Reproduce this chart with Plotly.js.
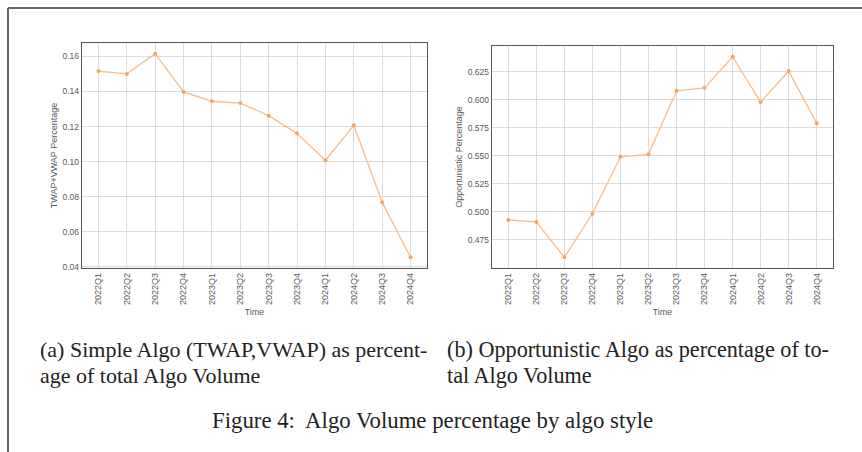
<!DOCTYPE html>
<html>
<head>
<meta charset="utf-8">
<script src="https://cdn.plot.ly/plotly-3.0.1.min.js"></script>
<style>html,body{margin:0;padding:0;background:#fff;}#chart{width:862px;height:452px;}</style>
</head>
<body>
<div id="chart"></div>
<script>
const quarters = ["2022Q1","2022Q2","2022Q3","2022Q4","2023Q1","2023Q2","2023Q3","2023Q4","2024Q1","2024Q2","2024Q3","2024Q4"];
const simpleAlgoPct = [0.1516,0.1500,0.1615,0.1397,0.1344,0.1334,0.1262,0.1160,0.1008,0.1207,0.0768,0.0455];
const opportunisticPct = [0.4928,0.4911,0.4596,0.4984,0.5492,0.5514,0.6081,0.6107,0.6384,0.5980,0.6256,0.5790];
const leftYTicks = [0.04,0.06,0.08,0.10,0.12,0.14,0.16];
const leftYTickText = ["0.04","0.06","0.08","0.10","0.12","0.14","0.16"];
const rightYTicks = [0.475,0.500,0.525,0.550,0.575,0.600,0.625];
const rightYTickText = ["0.475","0.500","0.525","0.550","0.575","0.600","0.625"];
const captionALines = ["(a) Simple Algo (TWAP,VWAP) as percent-", "age of total Algo Volume"];
const captionBLines = ["(b) Opportunistic Algo as percentage of to-", "tal Algo Volume"];
const figCaption = "Figure 4:  Algo Volume percentage by algo style";

const W = 862, H = 452;
const px = v => v / W;
const py = v => 1 - v / H;

const lineColor = "#f9bc86";
const markerColor = "#f4a563";

const traces = [
  {x: quarters, y: simpleAlgoPct, type: "scatter", mode: "lines+markers", xaxis: "x", yaxis: "y",
   line: {color: lineColor, width: 1.3}, marker: {color: markerColor, size: 4}},
  {x: quarters, y: opportunisticPct, type: "scatter", mode: "lines+markers", xaxis: "x2", yaxis: "y2",
   line: {color: lineColor, width: 1.3}, marker: {color: markerColor, size: 4}}
];

const xTickFont = {family: "Arial, Liberation Sans, sans-serif", size: 9, color: "#5a5a5a"};
const yTickFont = {family: "Arial, Liberation Sans, sans-serif", size: 8.5, color: "#5a5a5a"};
const titleFont = {family: "Arial, Liberation Sans, sans-serif", size: 9, color: "#5a5a5a"};

const xCommon = {
  type: "category", range: [-0.58, 11.58], tickangle: -90, tickfont: xTickFont,
  showgrid: true, gridcolor: "#dcdcdc", gridwidth: 1,
  showline: true, mirror: true, linecolor: "#555", linewidth: 1.3,
  ticks: "", fixedrange: true, zeroline: false, automargin: false,
  title: {text: "Time", font: titleFont, standoff: 4}
};
const yCommon = {
  tickfont: yTickFont, showgrid: true, gridcolor: "#dcdcdc", gridwidth: 1,
  showline: true, mirror: true, linecolor: "#555", linewidth: 1.3,
  ticks: "", zeroline: false, automargin: false
};

const serif = size => ({family: "Liberation Serif, serif", size: size, color: "#222"});
const cap = (text, x, y, anchor, size) => ({text: text, xref: "paper", yref: "paper", x: px(x), y: py(y),
  xanchor: anchor, yanchor: "middle", align: "left", showarrow: false, font: serif(size)});

const layout = {
  width: W, height: H,
  margin: {l: 0, r: 0, t: 0, b: 0},
  paper_bgcolor: "#fff", plot_bgcolor: "#fff",
  showlegend: false,
  xaxis: Object.assign({}, xCommon, {domain: [px(82), px(427)], anchor: "y"}),
  yaxis: Object.assign({}, yCommon, {domain: [1 - 268/H, 1 - 43/H], anchor: "x",
    range: [0.0394, 0.1676], tickvals: leftYTicks, ticktext: leftYTickText,
    title: {text: "TWAP+VWAP Percentage", font: titleFont, standoff: 3}}),
  xaxis2: Object.assign({}, xCommon, {domain: [px(492), px(833)], anchor: "y2"}),
  yaxis2: Object.assign({}, yCommon, {domain: [1 - 268/H, 1 - 46/H], anchor: "x2",
    range: [0.450, 0.648], tickvals: rightYTicks, ticktext: rightYTickText,
    title: {text: "Opportunistic Percentage", font: titleFont, standoff: 3}}),
  shapes: [
    {type: "line", xref: "paper", yref: "paper", x0: px(8), x1: 1, y0: py(8), y1: py(8), line: {color: "#666", width: 2}},
    {type: "line", xref: "paper", yref: "paper", x0: px(8), x1: px(8), y0: 0, y1: py(8), line: {color: "#666", width: 2}}
  ],
  annotations: [
    cap(captionALines[0], 38, 349, "left", 22),
    cap(captionALines[1], 38, 375, "left", 22),
    cap(captionBLines[0], 445, 349, "left", 22.2),
    cap(captionBLines[1], 445, 375, "left", 22.2),
    cap(figCaption, 433, 420, "center", 22.8)
  ]
};

Plotly.newPlot("chart", traces, layout, {displayModeBar: false, staticPlot: true});
</script>
</body>
</html>
